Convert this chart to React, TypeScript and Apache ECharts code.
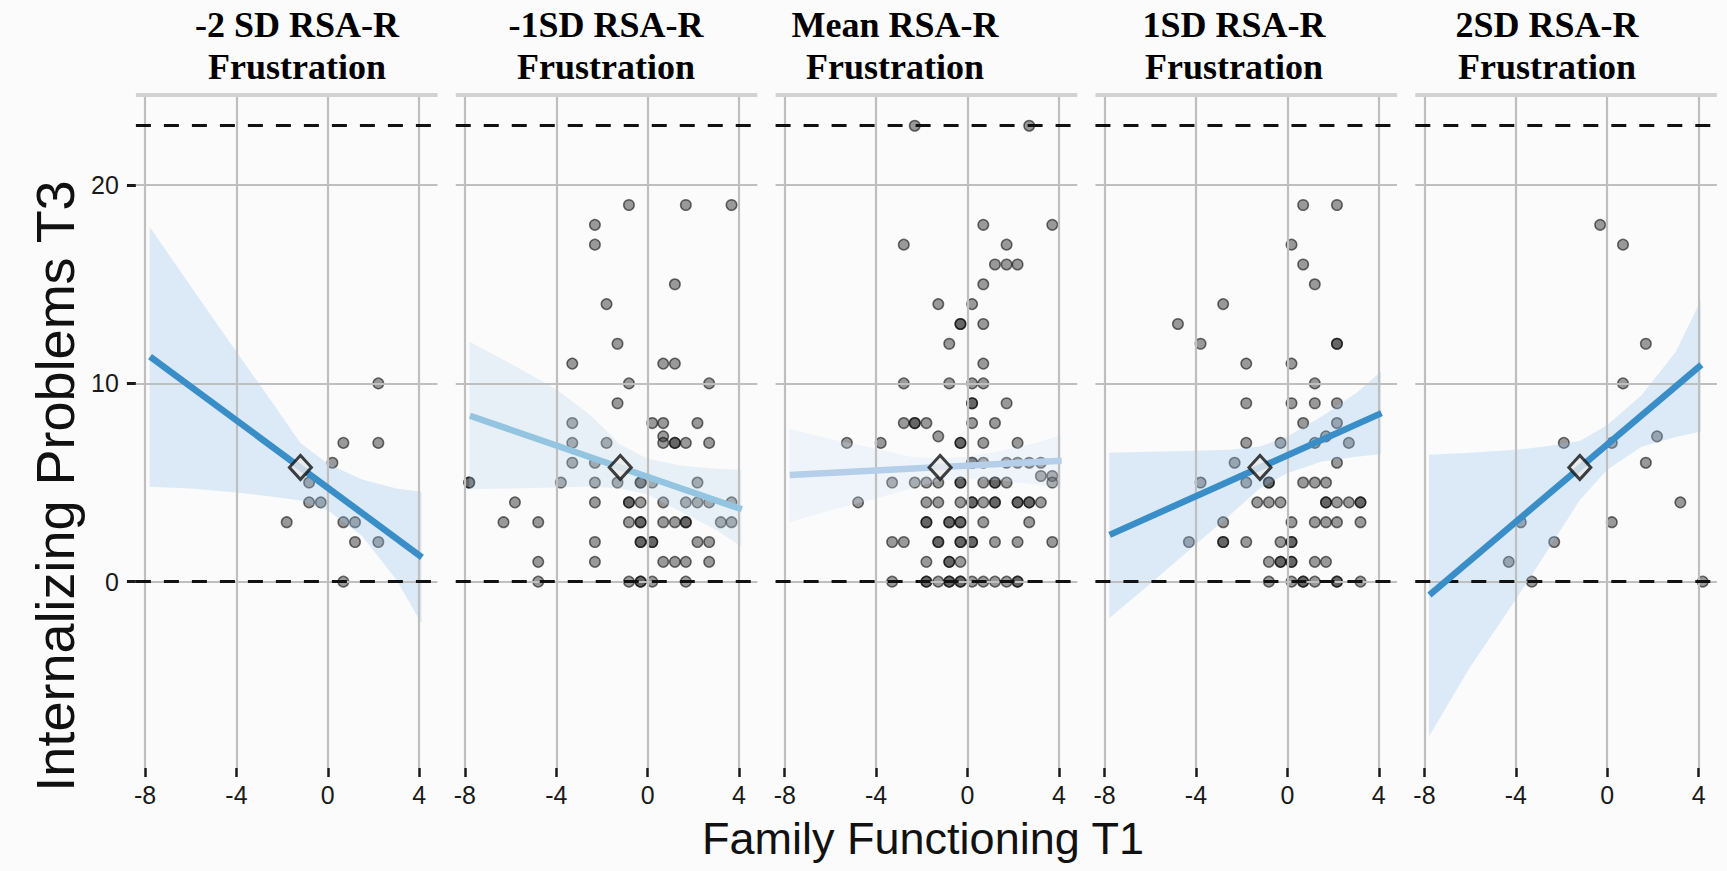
import React, { useEffect, useRef } from "react";
import * as echarts from "echarts";

// ---------- data ----------
const PANEL_TITLES = [
  "-2 SD RSA-R\nFrustration",
  "-1SD RSA-R\nFrustration",
  "Mean RSA-R\nFrustration",
  "1SD RSA-R\nFrustration",
  "2SD RSA-R\nFrustration",
];
const TITLE_CENTERS = [297, 606, 895, 1234, 1547];
const X_TICKS = [-8, -4, 0, 4];
const Y_TICKS = [0, 10, 20];
const GRID_Y = [10, 20];
const DASHED_Y = [0, 23];
const X_TITLE = "Family Functioning T1";
const Y_TITLE = "Internalizing Problems T3";

const MEAN_X = -1.2;
const MEAN_Y = 5.76;

const LINE_X = [-7.78, 4.12];
const LINE_Y = [
  [11.35, 1.23],
  [8.37, 3.65],
  [5.38, 6.1],
  [2.36, 8.5],
  [-0.67, 10.94],
];
const LINE_COLORS = ["#3a8ec8", "#93c5e1", "#b5ceea", "#3a8ec8", "#3a8ec8"];
const RIBBON_COLORS = [
  "rgba(150,197,237,0.3)",
  "rgba(190,215,240,0.3)",
  "rgba(205,225,245,0.28)",
  "rgba(150,197,237,0.3)",
  "rgba(150,197,237,0.3)",
];

const RIBBON_X = [-7.8, -6, -4, -2.5, -1.2, 0, 1.5, 3, 4.1];
const RIBBON_UPPER = [
  [17.9, 14.9, 11.6, 9.15, 7.0, 5.95, 5.15, 4.7, 4.54],
  [12.1, 11.0, 9.7, 8.4, 6.9, 6.2, 5.85, 5.7, 5.64],
  [7.7, 7.2, 6.7, 6.3, 6.2, 6.3, 6.6, 7.0, 7.4],
  [6.5, 6.55, 6.6, 6.65, 6.82, 7.32, 8.33, 9.5, 10.6],
  [6.4, 6.5, 6.65, 6.85, 7.1, 7.9, 9.4, 11.6, 14.2],
];
const RIBBON_LOWER = [
  [4.79, 4.7, 4.5, 4.3, 4.1, 3.6, 2.3, 0.1, -2.1],
  [4.66, 4.7, 4.75, 4.8, 4.7, 4.4, 3.5, 2.6, 1.77],
  [3.0, 3.6, 4.2, 4.7, 5.1, 5.2, 5.1, 4.9, 4.7],
  [-1.85, -0.1, 1.89, 3.38, 4.71, 5.47, 6.06, 6.3, 6.43],
  [-7.8, -4.3, -0.9, 1.77, 4.12, 5.64, 6.8, 7.3, 7.58],
];

const POINTS_M2SD = [
  [2.21, 10], [0.68, 7], [2.21, 7], [0.2, 6], [-0.82, 5], [-0.82, 4], [-0.31, 4],
  [-1.8, 3], [0.68, 3], [1.19, 3], [1.19, 2], [2.21, 2], [0.68, 0],
];
const POINTS_M1SD = [
  [-0.82, 19], [1.67, 19], [3.67, 19], [-2.31, 18], [-2.31, 17], [1.19, 15], [-1.8, 14], [-1.32, 12],
  [-3.3, 11], [0.68, 11], [1.19, 11], [-0.82, 10], [2.69, 10], [-1.32, 9],
  [-3.3, 8], [0.2, 8], [0.68, 8], [2.18, 8], [0.68, 7.33],
  [-3.3, 7], [-1.8, 7], [0.68, 7], [1.19, 7], [1.19, 7], [1.67, 7], [2.69, 7],
  [-3.3, 6], [-2.31, 6],
  [-7.81, 5], [-7.81, 5], [-3.8, 5], [-2.31, 5], [-1.32, 5], [-0.31, 5], [-0.31, 5], [0.2, 5], [2.18, 5],
  [-5.81, 4], [-2.31, 4], [-0.82, 4], [-0.82, 4], [-0.31, 4], [0.68, 4], [1.67, 4], [2.18, 4], [2.69, 4], [3.67, 4],
  [-6.31, 3], [-4.79, 3], [-0.82, 3], [-0.31, 3], [-0.31, 3], [0.68, 3], [1.19, 3], [1.67, 3], [1.67, 3], [3.2, 3], [3.67, 3],
  [-2.31, 2], [-0.31, 2], [-0.31, 2], [0.2, 2], [0.2, 2], [2.18, 2], [2.69, 2],
  [-4.79, 1], [-2.31, 1], [0.68, 1], [1.19, 1], [1.67, 1], [2.69, 1],
  [-4.79, 0], [-0.82, 0], [-0.31, 0], [-0.31, 0], [0.2, 0], [1.67, 0],
];
const POINTS_MEAN = [
  [-2.31, 23], [2.7, 23], [0.69, 18], [3.71, 18], [-2.79, 17], [1.71, 17],
  [1.2, 16], [1.71, 16], [2.19, 16], [0.69, 15], [-1.28, 14], [0.2, 14],
  [-0.31, 13], [-0.31, 13], [0.69, 13], [-0.8, 12], [0.69, 11],
  [-2.79, 10], [-0.8, 10], [0.2, 10], [0.69, 10],
  [0.2, 9], [0.2, 9], [1.71, 9],
  [-2.79, 8], [-2.31, 8], [-2.31, 8], [-1.8, 8], [0.2, 8], [1.2, 8], [-1.28, 7.33],
  [-5.28, 7], [-3.8, 7], [-0.31, 7], [-0.31, 7], [0.69, 7], [2.19, 7],
  [0.2, 6], [0.2, 6], [0.69, 6], [1.71, 6], [2.19, 6], [2.7, 6], [3.21, 6],
  [3.21, 5.33], [3.71, 5.33], [3.71, 5],
  [-3.3, 5], [-2.31, 5], [-1.8, 5], [-1.28, 5], [-0.31, 5], [-0.31, 5], [0.69, 5], [1.2, 5], [1.2, 5], [1.71, 5],
  [-4.79, 4], [-1.8, 4], [-1.28, 4], [-0.31, 4], [0.2, 4], [0.2, 4], [0.69, 4], [1.2, 4], [1.2, 4],
  [2.19, 4], [2.19, 4], [2.7, 4], [2.7, 4], [3.21, 4],
  [-1.8, 3], [-1.8, 3], [-0.8, 3], [-0.8, 3], [-0.31, 3], [-0.31, 3], [0.69, 3], [2.7, 3],
  [-3.3, 2], [-2.79, 2], [-1.28, 2], [-1.28, 2], [-0.31, 2], [-0.31, 2], [0.2, 2], [0.2, 2], [1.2, 2], [2.19, 2], [3.71, 2],
  [-1.8, 1], [-0.8, 1], [-0.8, 1], [-0.31, 1],
  [-3.3, 0], [-1.8, 0], [-1.8, 0], [-1.28, 0], [-0.8, 0], [-0.8, 0], [-0.31, 0], [-0.31, 0],
  [0.2, 0], [0.69, 0], [1.2, 0], [1.71, 0], [2.19, 0], [2.19, 0],
];
const POINTS_P1SD = [
  [0.69, 19], [2.17, 19], [0.18, 17], [0.69, 16], [1.2, 15], [-2.81, 14], [-4.79, 13],
  [-3.8, 12], [2.17, 12], [2.17, 12], [-1.8, 11], [0.18, 11], [1.2, 10],
  [-1.8, 9], [0.18, 9], [1.2, 9], [2.17, 9], [0.69, 8], [2.17, 8], [1.69, 7.33],
  [-1.8, 7], [-0.3, 7], [1.2, 7], [2.69, 7], [-2.31, 6], [2.17, 6],
  [-3.8, 5], [-1.8, 5], [-0.81, 5], [-0.81, 5], [0.69, 5], [1.2, 5], [1.69, 5],
  [-1.32, 4], [-0.81, 4], [-0.3, 4], [1.69, 4], [1.69, 4], [2.17, 4], [2.69, 4], [3.2, 4], [3.2, 4],
  [-2.81, 3], [0.18, 3], [1.2, 3], [1.69, 3], [2.17, 3], [3.2, 3],
  [-4.31, 2], [-2.81, 2], [-2.81, 2], [-1.8, 2], [-0.3, 2], [0.18, 2], [0.18, 2],
  [-0.81, 1], [-0.3, 1], [-0.3, 1], [0.18, 1], [0.18, 1], [1.2, 1], [1.69, 1],
  [-0.81, 0], [0.18, 0], [0.69, 0], [0.69, 0], [1.2, 0], [2.17, 0], [2.17, 0], [3.2, 0],
];
const POINTS_P2SD = [
  [-0.31, 18], [0.69, 17], [1.69, 12], [0.69, 10], [-1.9, 7], [0.2, 7], [2.18, 7.33],
  [1.69, 6], [3.2, 4], [-3.78, 3], [0.2, 3], [-2.32, 2], [-4.31, 1], [-3.3, 0], [4.18, 0],
];
const PANEL_POINTS = [POINTS_M2SD, POINTS_M1SD, POINTS_MEAN, POINTS_P1SD, POINTS_P2SD];

// ---------- layout ----------
const PANEL_LEFT0 = 135.9;
const PANEL_STEP = 319.85;
const PANEL_W = 301.6;
const PANEL_TOP = 93;
const PANEL_H = 675;
const X_MIN = -8.4;
const X_MAX = 4.8;
const Y_MIN = -9.4;
const Y_MAX = 24.65;

const SANS = "'Liberation Sans', Arial, Helvetica, sans-serif";
const SERIF = "'Liberation Serif', 'Times New Roman', serif";

function buildOption() {
  const grids: any[] = [];
  const xAxes: any[] = [];
  const yAxes: any[] = [];
  const series: any[] = [];

  for (let i = 0; i < 5; i++) {
    grids.push({
      left: PANEL_LEFT0 + PANEL_STEP * i,
      top: PANEL_TOP,
      width: PANEL_W,
      height: PANEL_H,
      containLabel: false,
    });
    xAxes.push({
      gridIndex: i,
      type: "value",
      position: "bottom",
      min: X_MIN,
      max: X_MAX,
      axisLine: { show: false, onZero: false },
      splitLine: { show: false },
      axisTick: {
        show: true,
        customValues: X_TICKS,
        length: 9,
        lineStyle: { color: "#1a1a1a", width: 2.5 },
      },
      axisLabel: {
        show: true,
        customValues: X_TICKS,
        fontSize: 25,
        color: "#1a1a1a",
        margin: 14,
        fontFamily: SANS,
      },
    });
    yAxes.push({
      gridIndex: i,
      type: "value",
      position: "left",
      min: Y_MIN,
      max: Y_MAX,
      axisLine: { show: false, onZero: false },
      splitLine: { show: false },
      axisTick: {
        show: i === 0,
        customValues: Y_TICKS,
        length: 9,
        lineStyle: { color: "#1a1a1a", width: 3 },
      },
      axisLabel: {
        show: i === 0,
        customValues: Y_TICKS,
        fontSize: 25,
        color: "#1a1a1a",
        margin: 17,
        fontFamily: SANS,
      },
    });

    const gridStyle = { color: "#bfbfbf", width: 2.2, type: "solid" };
    const dashStyle = { color: "#111", width: 3, type: [15, 13] };
    series.push({
      type: "line",
      xAxisIndex: i,
      yAxisIndex: i,
      data: [],
      silent: true,
      z: 1,
      markLine: {
        silent: true,
        symbol: ["none", "none"],
        label: { show: false },
        animation: false,
        data: [
          ...X_TICKS.map((v) => ({ xAxis: v, lineStyle: gridStyle })),
          ...GRID_Y.map((v) => ({ yAxis: v, lineStyle: gridStyle })),
          { yAxis: 0, lineStyle: gridStyle },
          { yAxis: Y_MAX - 0.1, lineStyle: { color: "#d2d2d2", width: 4, type: "solid" } },
          ...DASHED_Y.map((v) => ({ yAxis: v, lineStyle: dashStyle })),
        ],
      },
    });

    series.push({
      type: "scatter",
      xAxisIndex: i,
      yAxisIndex: i,
      data: PANEL_POINTS[i],
      symbol: "circle",
      symbolSize: 10.5,
      z: 3,
      itemStyle: {
        color: "rgba(45,45,45,0.6)",
        borderColor: "rgba(0,0,0,0.7)",
        borderWidth: 1.5,
      },
    });

    const upper = RIBBON_UPPER[i];
    const lower = RIBBON_LOWER[i];
    const fill = RIBBON_COLORS[i];
    series.push({
      type: "custom",
      xAxisIndex: i,
      yAxisIndex: i,
      z: 4,
      silent: true,
      data: [[RIBBON_X[0], upper[0]]],
      renderItem: (params: any, api: any) => {
        const up = RIBBON_X.map((x, k) => api.coord([x, upper[k]]));
        const lo = RIBBON_X.map((x, k) => api.coord([x, lower[k]])).reverse();
        return {
          type: "polygon",
          shape: { points: up.concat(lo) },
          style: { fill },
        };
      },
    });

    series.push({
      type: "line",
      xAxisIndex: i,
      yAxisIndex: i,
      z: 5,
      silent: true,
      symbol: "none",
      data: [
        [LINE_X[0], LINE_Y[i][0]],
        [LINE_X[1], LINE_Y[i][1]],
      ],
      lineStyle: { color: LINE_COLORS[i], width: 6.5, cap: "butt" },
    });

    series.push({
      type: "scatter",
      xAxisIndex: i,
      yAxisIndex: i,
      z: 6,
      silent: true,
      symbol: "diamond",
      symbolSize: [22, 24],
      data: [[MEAN_X, MEAN_Y]],
      itemStyle: { color: "#ececec", borderColor: "#111", borderWidth: 3 },
    });
  }

  const graphic: any[] = PANEL_TITLES.map((t, i) => ({
    type: "text",
    x: TITLE_CENTERS[i],
    y: 4,
    silent: true,
    style: {
      text: t,
      fontFamily: SERIF,
      fontWeight: "bold",
      fontSize: 36,
      lineHeight: 42,
      align: "center",
      verticalAlign: "top",
      fill: "#000",
    },
  }));
  graphic.push({
    type: "text",
    x: 923,
    y: 838,
    silent: true,
    style: {
      text: X_TITLE,
      fontFamily: SANS,
      fontSize: 45,
      align: "center",
      verticalAlign: "middle",
      fill: "#111",
    },
  });
  graphic.push({
    type: "text",
    x: 55,
    y: 486,
    rotation: Math.PI / 2,
    silent: true,
    style: {
      text: Y_TITLE,
      fontFamily: SANS,
      fontSize: 54,
      align: "center",
      verticalAlign: "middle",
      fill: "#111",
    },
  });

  return {
    animation: false,
    backgroundColor: "#fbfbfb",
    grid: grids,
    xAxis: xAxes,
    yAxis: yAxes,
    series,
    graphic,
  };
}

export default function App() {
  const ref = useRef<HTMLDivElement>(null);
  useEffect(() => {
    if (!ref.current) return;
    const chart = echarts.init(ref.current, null, { renderer: "svg" });
    chart.setOption(buildOption() as any);
    return () => chart.dispose();
  }, []);
  return (
    <div
      ref={ref}
      style={{ position: "fixed", left: 0, top: 0, width: 1727, height: 871 }}
    />
  );
}
